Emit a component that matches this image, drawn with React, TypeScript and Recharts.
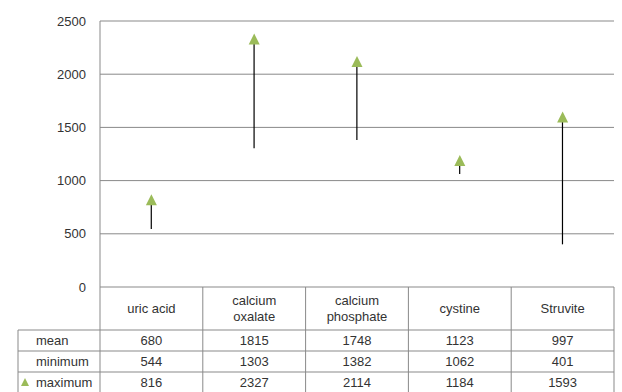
import React from 'react';
import { ComposedChart, Bar, Line, XAxis, YAxis, CartesianGrid } from 'recharts';

const categories = ['uric acid', 'calcium oxalate', 'calcium phosphate', 'cystine', 'Struvite'];
const headerLines = [['uric acid'], ['calcium', 'oxalate'], ['calcium', 'phosphate'], ['cystine'], ['Struvite']];
const meanValues = [680, 1815, 1748, 1123, 997];
const minValues = [544, 1303, 1382, 1062, 401];
const maxValues = [816, 2327, 2114, 1184, 1593];
const yTicks = [0, 500, 1000, 1500, 2000, 2500];
const rowLabels = ['mean', 'minimum', 'maximum'];

const W = 622;
const H = 392;
const MARGIN = { top: 21, right: 8, bottom: 0, left: 0 };
const Y_AXIS_W = 100;
const X_AXIS_H = 105;
const GRID = '#898989';
const TEXT = '#333';
const GREEN = '#9bbb59';

const data = categories.map((name, i) => ({
    name,
    mean: meanValues[i],
    min: minValues[i],
    max: maxValues[i],
    range: [minValues[i], maxValues[i]],
}));

const rowValues = [meanValues, minValues, maxValues];

// high-low line from minimum to maximum
const RangeLine = (props: any) => {
    const { x, y, width, height } = props;
    const cx = x + width / 2;
    return <line x1={cx} x2={cx} y1={y} y2={y + height} stroke="#000" strokeWidth={1.2} />;
};

const Triangle = (props: any) => {
    const { cx, cy, index } = props;
    if (cx == null || cy == null) return <g key={`t-${index}`} />;
    return (
        <polygon
            key={`t-${index}`}
            points={`${cx},${cy - 6} ${cx + 5.5},${cy + 5} ${cx - 5.5},${cy + 5}`}
            fill={GREEN}
        />
    );
};

// the data table under the plot, drawn one column per tick
const TableTick = (props: any) => {
    const { x, y, index } = props;
    const bw = (W - MARGIN.right - MARGIN.left - Y_AXIS_W) / categories.length;
    const left = x - bw / 2;
    const right = x + bw / 2;
    const headerH = 43;
    const rowH = 21;
    const bottom = H + 5;
    const rowTops = [y + headerH, y + headerH + rowH, y + headerH + rowH * 2];
    const lines = headerLines[index] || [];
    const labelLeft = 18;

    return (
        <g fontSize={13} fill={TEXT}>
            <line x1={right} x2={right} y1={y} y2={bottom} stroke={GRID} />
            {index === 0 && (
                <g>
                    <line x1={left} x2={left} y1={y} y2={bottom} stroke={GRID} />
                    <line x1={labelLeft} x2={labelLeft} y1={rowTops[0]} y2={bottom} stroke={GRID} />
                    {rowTops.map((t, r) => (
                        <line key={r} x1={labelLeft} x2={left} y1={t} y2={t} stroke={GRID} />
                    ))}
                    {rowLabels.map((lab, r) => (
                        <text key={lab} x={36} y={rowTops[r] + rowH / 2} dy="0.35em" textAnchor="start" fill={TEXT}>
                            {lab}
                        </text>
                    ))}
                    <polygon
                        points={`25,${rowTops[2] + 6} 29,${rowTops[2] + 14} 21,${rowTops[2] + 14}`}
                        fill={GREEN}
                    />
                </g>
            )}
            {rowTops.map((t, r) => (
                <line key={r} x1={left} x2={right} y1={t} y2={t} stroke={GRID} />
            ))}
            {lines.map((ln, k) => (
                <text
                    key={ln}
                    x={x}
                    y={y + headerH / 2 + (k - (lines.length - 1) / 2) * 16}
                    dy="0.35em"
                    textAnchor="middle"
                    fill={TEXT}
                >
                    {ln}
                </text>
            ))}
            {rowValues.map((vals, r) => (
                <text key={r} x={x} y={rowTops[r] + rowH / 2} dy="0.35em" textAnchor="middle" fill={TEXT}>
                    {vals[index]}
                </text>
            ))}
        </g>
    );
};

export default function App() {
    return (
        <div style={{ position: 'absolute', left: 0, top: 0, width: W, height: H, background: '#fff', fontFamily: '"Liberation Sans", Arial, sans-serif' }}>
            <ComposedChart width={W} height={H} data={data} margin={MARGIN}>
                <CartesianGrid vertical={false} stroke={GRID} />
                <XAxis
                    dataKey="name"
                    height={X_AXIS_H}
                    axisLine={false}
                    tickLine={false}
                    tickSize={0}
                    tickMargin={0}
                    interval={0}
                    tick={<TableTick />}
                />
                <YAxis
                    width={Y_AXIS_W}
                    domain={[0, 2500]}
                    ticks={yTicks}
                    axisLine={{ stroke: GRID }}
                    tickLine={false}
                    tickSize={6}
                    tickMargin={8}
                    tick={{ fill: TEXT, fontSize: 13 }}
                />
                <Bar dataKey="range" shape={<RangeLine />} isAnimationActive={false} />
                <Line dataKey="mean" stroke="none" dot={false} activeDot={false} isAnimationActive={false} />
                <Line dataKey="max" stroke="none" dot={(p: any) => <Triangle {...p} />} activeDot={false} isAnimationActive={false} />
            </ComposedChart>
        </div>
    );
}
